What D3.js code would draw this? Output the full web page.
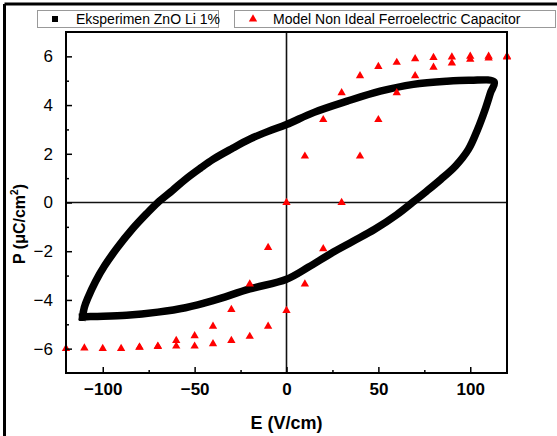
<!DOCTYPE html>
<html>
<head>
<meta charset="utf-8">
<script src="https://cdn.jsdelivr.net/npm/d3@7"></script>
<style>
  body { margin: 0; background: #fff; }
  svg { display: block; font-family: "Liberation Sans", Arial, sans-serif; }
</style>
</head>
<body>
<svg id="chart"></svg>
<script>
// Experimental loop, ascending branch (bottom-left corner -> top-right tip)
const expUpE = [-111, -110, -108, -104, -99, -92, -84, -76, -70, -62, -55, -47, -40, -30, -20, -10, 0, 15, 33, 51, 69, 87, 100, 113];
const expUpP = [-4.7, -4.3, -3.9, -3.25, -2.6, -1.85, -1.1, -0.45, 0, 0.5, 0.95, 1.4, 1.77, 2.2, 2.6, 2.92, 3.2, 3.7, 4.16, 4.57, 4.85, 4.98, 5.02, 4.95];
// Experimental loop, descending branch (top-right tip -> bottom-left corner)
const expDownE = [113, 111, 108, 104, 99, 92, 84, 76, 68.5, 60, 48, 36, 24, 12, 0, -20, -40, -55, -70, -87, -105, -111];
const expDownP = [4.95, 4.5, 3.8, 3.0, 2.18, 1.5, 0.95, 0.45, 0, -0.5, -1.1, -1.6, -2.1, -2.65, -3.15, -3.55, -4.03, -4.32, -4.5, -4.63, -4.68, -4.7];

// Model points (branch through origin and branch through E = 30)
const modelE1 = [-120, -110, -100, -90, -80, -70, -60, -50, -40, -30, -20, -10, 0, 10, 20, 30, 40, 50, 60, 70, 80, 90, 100, 110, 120];
const modelP1 = [-6.0, -5.98, -6.0, -6.0, -5.94, -5.9, -5.67, -5.47, -5.08, -4.4, -3.35, -1.85, 0, 1.9, 3.4, 4.5, 5.2, 5.58, 5.75, 5.9, 5.95, 5.97, 6.0, 6.0, 6.0];
const modelE2 = [-80, -70, -60, -50, -40, -30, -20, -10, 0, 10, 20, 30, 40, 50, 60, 70, 80, 90, 100, 110, 120];
const modelP2 = [-5.95, -5.92, -5.9, -5.9, -5.8, -5.67, -5.5, -5.08, -4.44, -3.35, -1.9, 0, 1.9, 3.4, 4.5, 5.2, 5.55, 5.72, 5.88, 5.93, 5.97];

const xMajor = [-100, -50, 0, 50, 100];
const xMinor = [-75, -25, 25, 75];
const yMajor = [-6, -4, -2, 0, 2, 4, 6];
const yMinor = [-5, -3, -1, 1, 3, 5];

const W = 557, H = 436;
const plot = {left: 66, right: 507, top: 32, bottom: 373};

const svg = d3.select('#chart').attr('width', W).attr('height', H);

// outer frame (top and left edges)
svg.append('line').attr('x1', 4.5).attr('x2', W).attr('y1', 4).attr('y2', 4)
  .attr('stroke', '#000').attr('stroke-width', 3);
svg.append('line').attr('x1', 4.5).attr('x2', 4.5).attr('y1', 4).attr('y2', H)
  .attr('stroke', '#000').attr('stroke-width', 3);

const x = d3.scaleLinear().domain([-120, 120]).range([plot.left, plot.right]);
const y = d3.scaleLinear().domain([-7, 7]).range([plot.bottom, plot.top]);

// zero lines
svg.append('line').attr('x1', x(0)).attr('x2', x(0)).attr('y1', plot.top).attr('y2', plot.bottom)
  .attr('stroke', '#111').attr('stroke-width', 1.6);
svg.append('line').attr('x1', plot.left).attr('x2', plot.right).attr('y1', y(0)).attr('y2', y(0))
  .attr('stroke', '#111').attr('stroke-width', 1.6);

// experimental loop
const loopE = expUpE.concat(expDownE.slice(1));
const loopP = expUpP.concat(expDownP.slice(1));
const loopPts = loopE.map((e, i) => [e, loopP[i]]);
const line = d3.line().x(d => x(d[0])).y(d => y(d[1])).curve(d3.curveCatmullRom.alpha(0.5));
svg.append('path').attr('d', line(loopPts))
  .attr('fill', 'none').attr('stroke', '#000').attr('stroke-width', 7.5)
  .attr('stroke-linejoin', 'miter').attr('stroke-linecap', 'square');

// model triangles
const tri = d3.symbol().type(d3.symbolTriangle).size(30);
const modelPts = modelE1.map((e, i) => [e, modelP1[i]])
  .concat(modelE2.map((e, i) => [e, modelP2[i]]));
svg.append('g').selectAll('path').data(modelPts).join('path')
  .attr('d', tri)
  .attr('transform', d => `translate(${x(d[0])},${y(d[1])})`)
  .attr('fill', '#ff0000');

// axes
const axisStyle = g => {
  g.select('.domain').remove();
  g.selectAll('line').attr('stroke', '#000').attr('stroke-width', 1.5);
};
svg.append('g').attr('transform', `translate(0,${plot.bottom})`)
  .call(d3.axisBottom(x).tickValues(xMajor).tickSize(-6).tickPadding(10))
  .call(axisStyle)
  .call(g => g.selectAll('text').attr('font-size', 17).attr('font-weight', 'bold')
    .attr('fill', '#000').attr('font-family', '"Liberation Sans", Arial, sans-serif'));
svg.append('g').attr('transform', `translate(0,${plot.bottom})`)
  .call(d3.axisBottom(x).tickValues(xMinor).tickSize(-3).tickFormat(''))
  .call(axisStyle);
svg.append('g').attr('transform', `translate(${plot.left},0)`)
  .call(d3.axisLeft(y).tickValues(yMajor).tickSize(-6).tickPadding(13))
  .call(axisStyle)
  .call(g => g.selectAll('text').attr('font-size', 17)
    .attr('fill', '#000').attr('font-family', '"Liberation Sans", Arial, sans-serif'));
svg.append('g').attr('transform', `translate(${plot.left},0)`)
  .call(d3.axisLeft(y).tickValues(yMinor).tickSize(-3).tickFormat(''))
  .call(axisStyle);

// plot frame
svg.append('rect').attr('x', plot.left).attr('y', plot.top)
  .attr('width', plot.right - plot.left).attr('height', plot.bottom - plot.top)
  .attr('fill', 'none').attr('stroke', '#000').attr('stroke-width', 2);

// axis titles
svg.append('text').attr('x', x(0)).attr('y', 429).attr('text-anchor', 'middle')
  .attr('font-size', 18).attr('font-weight', 'bold').text('E (V/cm)');
const yt = svg.append('text').attr('transform', 'translate(25,224) rotate(-90)')
  .attr('text-anchor', 'middle').attr('font-size', 16).attr('font-weight', 'bold');
yt.append('tspan').text('P (μC/cm');
yt.append('tspan').attr('font-size', 10).attr('dy', -7).text('2');
yt.append('tspan').attr('dy', 7).text(')');

// legend
const legend = svg.append('g');
legend.append('rect').attr('x', 37.5).attr('y', 10.5).attr('width', 181).attr('height', 17)
  .attr('fill', '#fff').attr('stroke', '#999');
legend.append('rect').attr('x', 52).attr('y', 16).attr('width', 6).attr('height', 6).attr('fill', '#000');
legend.append('text').attr('x', 76).attr('y', 24).attr('font-size', 14).text('Eksperimen ZnO Li 1%');
legend.append('rect').attr('x', 234.5).attr('y', 10.5).attr('width', 321).attr('height', 17)
  .attr('fill', '#fff').attr('stroke', '#999');
legend.append('path').attr('d', tri).attr('transform', 'translate(253,19)').attr('fill', '#ff0000');
legend.append('text').attr('x', 273).attr('y', 24).attr('font-size', 14).text('Model Non Ideal Ferroelectric Capacitor');
</script>
</body>
</html>
